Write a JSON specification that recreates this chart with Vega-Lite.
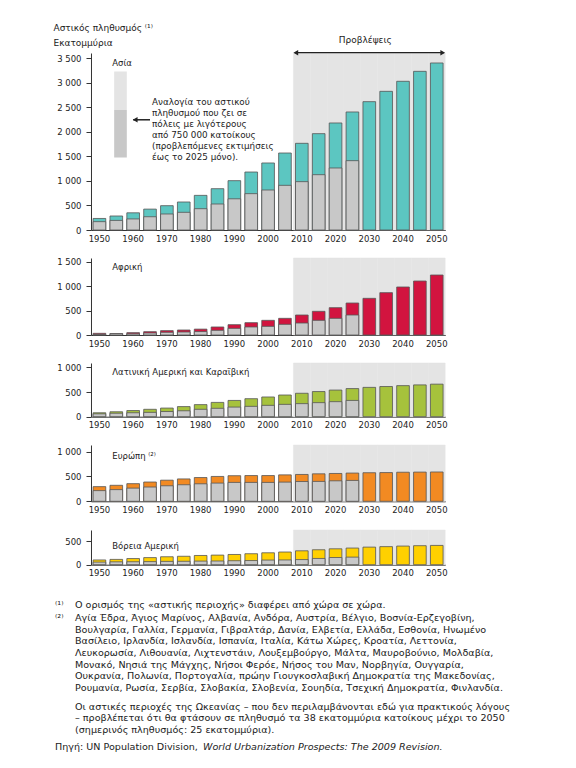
{
  "$schema": "https://vega.github.io/schema/vega-lite/v6.json",
  "background": "white",
  "padding": {"left": 53, "top": 23, "right": 5, "bottom": 5},
  "spacing": 28,
  "bounds": "flush",
  "config": {
    "view": {"stroke": null},
    "font": "DejaVu Sans",
    "text": {"font": "DejaVu Sans", "color": "#222"},
    "axis": {"labelFont": "DejaVu Sans", "labelFontSize": 8.5, "labelColor": "#222", "domainColor": "#333", "tickColor": "#333", "grid": false, "labelOverlap": false}
  },
  "datasets": {
    "urban": [
      {"region": "asia", "year": 1950, "total": 235, "small": 170},
      {"region": "asia", "year": 1955, "total": 285, "small": 195},
      {"region": "asia", "year": 1960, "total": 350, "small": 225},
      {"region": "asia", "year": 1965, "total": 425, "small": 270},
      {"region": "asia", "year": 1970, "total": 495, "small": 326},
      {"region": "asia", "year": 1975, "total": 570, "small": 360},
      {"region": "asia", "year": 1980, "total": 705, "small": 434},
      {"region": "asia", "year": 1985, "total": 841, "small": 529},
      {"region": "asia", "year": 1990, "total": 1004, "small": 635},
      {"region": "asia", "year": 1995, "total": 1180, "small": 740},
      {"region": "asia", "year": 2000, "total": 1364, "small": 814},
      {"region": "asia", "year": 2005, "total": 1567, "small": 909},
      {"region": "asia", "year": 2010, "total": 1764, "small": 984},
      {"region": "asia", "year": 2015, "total": 1961, "small": 1126},
      {"region": "asia", "year": 2020, "total": 2178, "small": 1262},
      {"region": "asia", "year": 2025, "total": 2402, "small": 1411},
      {"region": "asia", "year": 2030, "total": 2612, "small": null},
      {"region": "asia", "year": 2035, "total": 2822, "small": null},
      {"region": "asia", "year": 2040, "total": 3026, "small": null},
      {"region": "asia", "year": 2045, "total": 3229, "small": null},
      {"region": "asia", "year": 2050, "total": 3399, "small": null},
      {"region": "africa", "year": 1950, "total": 34, "small": 12},
      {"region": "africa", "year": 1955, "total": 30, "small": 28},
      {"region": "africa", "year": 1960, "total": 48, "small": 25},
      {"region": "africa", "year": 1965, "total": 68, "small": 41},
      {"region": "africa", "year": 1970, "total": 89, "small": 55},
      {"region": "africa", "year": 1975, "total": 102, "small": 61},
      {"region": "africa", "year": 1980, "total": 120, "small": 70},
      {"region": "africa", "year": 1985, "total": 164, "small": 95},
      {"region": "africa", "year": 1990, "total": 211, "small": 136},
      {"region": "africa", "year": 1995, "total": 252, "small": 164},
      {"region": "africa", "year": 2000, "total": 300, "small": 177},
      {"region": "africa", "year": 2005, "total": 341, "small": 218},
      {"region": "africa", "year": 2010, "total": 409, "small": 245},
      {"region": "africa", "year": 2015, "total": 484, "small": 300},
      {"region": "africa", "year": 2020, "total": 559, "small": 341},
      {"region": "africa", "year": 2025, "total": 654, "small": 409},
      {"region": "africa", "year": 2030, "total": 750, "small": null},
      {"region": "africa", "year": 2035, "total": 866, "small": null},
      {"region": "africa", "year": 2040, "total": 982, "small": null},
      {"region": "africa", "year": 2045, "total": 1104, "small": null},
      {"region": "africa", "year": 2050, "total": 1227, "small": null},
      {"region": "latin", "year": 1950, "total": 80, "small": 58},
      {"region": "latin", "year": 1955, "total": 100, "small": 70},
      {"region": "latin", "year": 1960, "total": 125, "small": 80},
      {"region": "latin", "year": 1965, "total": 150, "small": 88},
      {"region": "latin", "year": 1970, "total": 175, "small": 105},
      {"region": "latin", "year": 1975, "total": 205, "small": 120},
      {"region": "latin", "year": 1980, "total": 245, "small": 150},
      {"region": "latin", "year": 1985, "total": 290, "small": 170},
      {"region": "latin", "year": 1990, "total": 330, "small": 195},
      {"region": "latin", "year": 1995, "total": 365, "small": 210},
      {"region": "latin", "year": 2000, "total": 400, "small": 230},
      {"region": "latin", "year": 2005, "total": 440, "small": 250},
      {"region": "latin", "year": 2010, "total": 475, "small": 265},
      {"region": "latin", "year": 2015, "total": 510, "small": 285},
      {"region": "latin", "year": 2020, "total": 540, "small": 305},
      {"region": "latin", "year": 2025, "total": 570, "small": 330},
      {"region": "latin", "year": 2030, "total": 595, "small": null},
      {"region": "latin", "year": 2035, "total": 612, "small": null},
      {"region": "latin", "year": 2040, "total": 630, "small": null},
      {"region": "latin", "year": 2045, "total": 645, "small": null},
      {"region": "latin", "year": 2050, "total": 660, "small": null},
      {"region": "europe", "year": 1950, "total": 295, "small": 215},
      {"region": "europe", "year": 1955, "total": 322, "small": 235},
      {"region": "europe", "year": 1960, "total": 355, "small": 265},
      {"region": "europe", "year": 1965, "total": 388, "small": 287},
      {"region": "europe", "year": 1970, "total": 425, "small": 312},
      {"region": "europe", "year": 1975, "total": 450, "small": 333},
      {"region": "europe", "year": 1980, "total": 478, "small": 352},
      {"region": "europe", "year": 1985, "total": 500, "small": 366},
      {"region": "europe", "year": 1990, "total": 515, "small": 380},
      {"region": "europe", "year": 1995, "total": 518, "small": 380},
      {"region": "europe", "year": 2000, "total": 518, "small": 380},
      {"region": "europe", "year": 2005, "total": 532, "small": 386},
      {"region": "europe", "year": 2010, "total": 540, "small": 398},
      {"region": "europe", "year": 2015, "total": 553, "small": 400},
      {"region": "europe", "year": 2020, "total": 560, "small": 412},
      {"region": "europe", "year": 2025, "total": 568, "small": 420},
      {"region": "europe", "year": 2030, "total": 575, "small": null},
      {"region": "europe", "year": 2035, "total": 578, "small": null},
      {"region": "europe", "year": 2040, "total": 585, "small": null},
      {"region": "europe", "year": 2045, "total": 588, "small": null},
      {"region": "europe", "year": 2050, "total": 590, "small": null},
      {"region": "na", "year": 1950, "total": 100, "small": 55},
      {"region": "na", "year": 1955, "total": 112, "small": 60},
      {"region": "na", "year": 1960, "total": 130, "small": 62},
      {"region": "na", "year": 1965, "total": 150, "small": 65},
      {"region": "na", "year": 1970, "total": 168, "small": 70},
      {"region": "na", "year": 1975, "total": 178, "small": 72},
      {"region": "na", "year": 1980, "total": 195, "small": 76},
      {"region": "na", "year": 1985, "total": 203, "small": 78},
      {"region": "na", "year": 1990, "total": 216, "small": 84},
      {"region": "na", "year": 1995, "total": 232, "small": 88},
      {"region": "na", "year": 2000, "total": 252, "small": 98},
      {"region": "na", "year": 2005, "total": 268, "small": 100},
      {"region": "na", "year": 2010, "total": 294, "small": 108},
      {"region": "na", "year": 2015, "total": 316, "small": 132},
      {"region": "na", "year": 2020, "total": 336, "small": 152},
      {"region": "na", "year": 2025, "total": 352, "small": 160},
      {"region": "na", "year": 2030, "total": 372, "small": null},
      {"region": "na", "year": 2035, "total": 382, "small": null},
      {"region": "na", "year": 2040, "total": 394, "small": null},
      {"region": "na", "year": 2045, "total": 402, "small": null},
      {"region": "na", "year": 2050, "total": 408, "small": null}
    ],
    "notes": [
      {"line": 0, "col": "left", "style": "normal", "text": "⁽¹⁾"},
      {"line": 0, "col": "body", "style": "normal", "text": "Ο ορισμός της «αστικής περιοχής» διαφέρει από χώρα σε χώρα."},
      {"line": 1.1, "col": "left", "style": "normal", "text": "⁽²⁾"},
      {"line": 1.1, "col": "body", "style": "normal", "text": "Αγία Έδρα, Άγιος Μαρίνος, Αλβανία, Ανδόρα, Αυστρία, Βέλγιο, Βοσνία-Ερζεγοβίνη,"},
      {"line": 2.1, "col": "body", "style": "normal", "text": "Βουλγαρία, Γαλλία, Γερμανία, Γιβραλτάρ, Δανία, Ελβετία, Ελλάδα, Εσθονία, Ηνωμένο"},
      {"line": 3.1, "col": "body", "style": "normal", "text": "Βασίλειο, Ιρλανδία, Ισλανδία, Ισπανία, Ιταλία, Κάτω Χώρες, Κροατία, Λεττονία,"},
      {"line": 4.1, "col": "body", "style": "normal", "text": "Λευκορωσία, Λιθουανία, Λιχτενστάιν, Λουξεμβούργο, Μάλτα, Μαυροβούνιο, Μολδαβία,"},
      {"line": 5.1, "col": "body", "style": "normal", "text": "Μονακό, Νησιά της Μάγχης, Νήσοι Φερόε, Νήσος του Μαν, Νορβηγία, Ουγγαρία,"},
      {"line": 6.1, "col": "body", "style": "normal", "text": "Ουκρανία, Πολωνία, Πορτογαλία, πρώην Γιουγκοσλαβική Δημοκρατία της Μακεδονίας,"},
      {"line": 7.1, "col": "body", "style": "normal", "text": "Ρουμανία, Ρωσία, Σερβία, Σλοβακία, Σλοβενία, Σουηδία, Τσεχική Δημοκρατία, Φινλανδία."},
      {"line": 8.7, "col": "body", "style": "normal", "text": "Οι αστικές περιοχές της Ωκεανίας – που δεν περιλαμβάνονται εδώ για πρακτικούς λόγους"},
      {"line": 9.7, "col": "body", "style": "normal", "text": "–  προβλέπεται ότι θα φτάσουν σε πληθυσμό τα 38 εκατομμύρια κατοίκους μέχρι το 2050"},
      {"line": 10.7, "col": "body", "style": "normal", "text": "(σημερινός πληθυσμός: 25 εκατομμύρια)."},
      {"line": 12.1, "col": "left", "style": "normal", "text": "Πηγή: UN Population Division,"},
      {"line": 12.1, "col": "left", "style": "italic", "text": "World Urbanization Prospects: The 2009 Revision."}
    ]
  },
  "vconcat": [
    {
      "width": 354.2,
      "height": 177,
      "data": {"name": "urban"},
      "transform": [{"filter": "datum.region === 'asia'"}],
      "layer": [
        {
          "transform": [{"filter": "datum.year >= 2010"}],
          "mark": {"type": "bar", "width": {"band": 1}, "fill": "#e4e4e4", "stroke": "#e4e4e4", "strokeWidth": 0.5},
          "encoding": {
            "x": {"field": "year", "type": "ordinal", "scale": {"paddingInner": 0, "paddingOuter": 0}, "axis": {"title": null, "values": [1950, 1960, 1970, 1980, 1990, 2000, 2010, 2020, 2030, 2040, 2050], "labelAngle": 0, "ticks": false, "labelPadding": 4}},
            "y": {"datum": 3602, "type": "quantitative", "scale": {"domain": [0, 3602], "nice": false},
              "axis": {"values": [0, 500, 1000, 1500, 2000, 2500, 3000, 3500], "tickCount": 50, "labelOverlap": false, "labelExpr": "replace(format(datum.value, ','), ',', ' ')", "tickSize": 5, "labelPadding": 5,
                "title": ["Αστικός πληθυσμός ⁽¹⁾", "Εκατομμύρια"], "titleAngle": 0, "titleAlign": "left", "titleBaseline": "bottom", "titleX": -38, "titleY": -20.3,
                "titleFont": "DejaVu Sans", "titleFontSize": 9, "titleFontWeight": "normal", "titleColor": "#222", "titleLineHeight": 15}},
            "y2": {"datum": 0}
          }
        },
        {
          "mark": {"type": "bar", "width": {"band": 0.75}, "fill": "#5cc6c1", "stroke": "#555", "strokeWidth": 0.8},
          "encoding": {
            "x": {"field": "year", "type": "ordinal"},
            "y": {"field": "total", "type": "quantitative", "scale": {"domain": [0, 3602], "nice": false}}
          }
        },
        {
          "transform": [{"filter": "isValid(datum.small)"}],
          "mark": {"type": "bar", "width": {"band": 0.75}, "fill": "#c8c8c8", "stroke": "#555", "strokeWidth": 0.8},
          "encoding": {
            "x": {"field": "year", "type": "ordinal"},
            "y": {"field": "small", "type": "quantitative", "scale": {"domain": [0, 3602], "nice": false}}
          }
        },
        {
          "data": {"values": [{}]},
          "mark": {"type": "bar", "width": {"band": 0.75}, "fill": "#e4e4e4", "xOffset": 4.2},
          "encoding": {
            "x": {"datum": 1955, "type": "ordinal"},
            "y": {"datum": 3228, "type": "quantitative", "scale": {"domain": [0, 3602], "nice": false}},
            "y2": {"datum": 2442}
          }
        },
        {
          "data": {"values": [{}]},
          "mark": {"type": "bar", "width": {"band": 0.75}, "fill": "#c8c8c8", "xOffset": 4.2},
          "encoding": {
            "x": {"datum": 1955, "type": "ordinal"},
            "y": {"datum": 2442, "type": "quantitative", "scale": {"domain": [0, 3602], "nice": false}},
            "y2": {"datum": 1477}
          }
        },
        {
          "data": {"values": [{}]},
          "mark": {"type": "text", "text": "Ασία", "align": "left", "baseline": "middle", "fontSize": 8.5, "dx": -4},
          "encoding": {
            "x": {"datum": 1955, "type": "ordinal"},
            "y": {"datum": 3390, "type": "quantitative", "scale": {"domain": [0, 3602], "nice": false}}
          }
        },
        {
          "data": {"values": [{}]},
          "mark": {"type": "rule", "color": "#222", "strokeWidth": 1.5},
          "encoding": {
            "x": {"datum": 1960, "type": "ordinal"},
            "x2": {"datum": 1965},
            "y": {"datum": 2243, "type": "quantitative", "scale": {"domain": [0, 3602], "nice": false}}
          }
        },
        {
          "data": {"values": [{}]},
          "mark": {"type": "point", "shape": "triangle-left", "filled": true, "color": "#222", "size": 30, "opacity": 1, "xOffset": 2},
          "encoding": {
            "x": {"datum": 1960, "type": "ordinal"},
            "y": {"datum": 2243, "type": "quantitative", "scale": {"domain": [0, 3602], "nice": false}}
          }
        },
        {
          "data": {"values": [{}]},
          "mark": {"type": "text", "text": ["Αναλογία του αστικού", "πληθυσμού που ζει σε", "πόλεις με λιγότερους", "από 750 000 κατοίκους", "(προβλεπόμενες εκτιμήσεις", "έως το 2025 μόνο)."], "align": "left", "baseline": "middle", "fontSize": 8.8, "lineHeight": 10.85, "dx": 2},
          "encoding": {
            "x": {"datum": 1965, "type": "ordinal"},
            "y": {"datum": 2597, "type": "quantitative", "scale": {"domain": [0, 3602], "nice": false}}
          }
        },
        {
          "data": {"values": [{}]},
          "mark": {"type": "rule", "color": "#222", "strokeWidth": 1.2, "xOffset": -7, "x2Offset": 7},
          "encoding": {
            "x": {"datum": 2010, "type": "ordinal"},
            "x2": {"datum": 2050},
            "y": {"datum": 3608, "type": "quantitative", "scale": {"domain": [0, 3602], "nice": false}}
          }
        },
        {
          "data": {"values": [{}]},
          "mark": {"type": "point", "shape": "triangle-left", "filled": true, "color": "#222", "size": 30, "opacity": 1, "xOffset": -6},
          "encoding": {
            "x": {"datum": 2010, "type": "ordinal"},
            "y": {"datum": 3608, "type": "quantitative", "scale": {"domain": [0, 3602], "nice": false}}
          }
        },
        {
          "data": {"values": [{}]},
          "mark": {"type": "point", "shape": "triangle-right", "filled": true, "color": "#222", "size": 30, "opacity": 1, "xOffset": 6},
          "encoding": {
            "x": {"datum": 2050, "type": "ordinal"},
            "y": {"datum": 3608, "type": "quantitative", "scale": {"domain": [0, 3602], "nice": false}}
          }
        },
        {
          "data": {"values": [{}]},
          "mark": {"type": "text", "text": "Προβλέψεις", "align": "center", "baseline": "middle", "fontSize": 9, "dx": -4},
          "encoding": {
            "x": {"datum": 2030, "type": "ordinal"},
            "y": {"datum": 3873, "type": "quantitative", "scale": {"domain": [0, 3602], "nice": false}}
          }
        }
      ]
    },
    {
      "width": 354.2,
      "height": 77,
      "data": {"name": "urban"},
      "transform": [{"filter": "datum.region === 'africa'"}],
      "layer": [
        {
          "transform": [{"filter": "datum.year >= 2010"}],
          "mark": {"type": "bar", "width": {"band": 1}, "fill": "#e4e4e4", "stroke": "#e4e4e4", "strokeWidth": 0.5},
          "encoding": {
            "x": {"field": "year", "type": "ordinal", "scale": {"paddingInner": 0, "paddingOuter": 0}, "axis": {"title": null, "values": [1950, 1960, 1970, 1980, 1990, 2000, 2010, 2020, 2030, 2040, 2050], "labelAngle": 0, "ticks": false, "labelPadding": 4}},
            "y": {"datum": 1575, "type": "quantitative", "scale": {"domain": [0, 1575], "nice": false},
              "axis": {"title": null, "values": [0, 500, 1000, 1500], "tickCount": 50, "labelOverlap": false, "labelExpr": "replace(format(datum.value, ','), ',', ' ')", "tickSize": 5, "labelPadding": 5}},
            "y2": {"datum": 0}
          }
        },
        {
          "mark": {"type": "bar", "width": {"band": 0.75}, "fill": "#d2143f", "stroke": "#555", "strokeWidth": 0.8},
          "encoding": {
            "x": {"field": "year", "type": "ordinal"},
            "y": {"field": "total", "type": "quantitative", "scale": {"domain": [0, 1575], "nice": false}}
          }
        },
        {
          "transform": [{"filter": "isValid(datum.small)"}],
          "mark": {"type": "bar", "width": {"band": 0.75}, "fill": "#c8c8c8", "stroke": "#555", "strokeWidth": 0.8},
          "encoding": {
            "x": {"field": "year", "type": "ordinal"},
            "y": {"field": "small", "type": "quantitative", "scale": {"domain": [0, 1575], "nice": false}}
          }
        },
        {
          "data": {"values": [{}]},
          "mark": {"type": "text", "text": "Αφρική", "align": "left", "baseline": "middle", "fontSize": 8.5, "dx": -4},
          "encoding": {
            "x": {"datum": 1955, "type": "ordinal"},
            "y": {"datum": 1391, "type": "quantitative", "scale": {"domain": [0, 1575], "nice": false}}
          }
        }
      ]
    },
    {
      "width": 354.2,
      "height": 53.7,
      "data": {"name": "urban"},
      "transform": [{"filter": "datum.region === 'latin'"}],
      "layer": [
        {
          "transform": [{"filter": "datum.year >= 2010"}],
          "mark": {"type": "bar", "width": {"band": 1}, "fill": "#e4e4e4", "stroke": "#e4e4e4", "strokeWidth": 0.5},
          "encoding": {
            "x": {"field": "year", "type": "ordinal", "scale": {"paddingInner": 0, "paddingOuter": 0}, "axis": {"title": null, "values": [1950, 1960, 1970, 1980, 1990, 2000, 2010, 2020, 2030, 2040, 2050], "labelAngle": 0, "ticks": false, "labelPadding": 4}},
            "y": {"datum": 1089, "type": "quantitative", "scale": {"domain": [0, 1089], "nice": false},
              "axis": {"title": null, "values": [0, 500, 1000], "tickCount": 50, "labelOverlap": false, "labelExpr": "replace(format(datum.value, ','), ',', ' ')", "tickSize": 5, "labelPadding": 5}},
            "y2": {"datum": 0}
          }
        },
        {
          "mark": {"type": "bar", "width": {"band": 0.75}, "fill": "#a6c23c", "stroke": "#555", "strokeWidth": 0.8},
          "encoding": {
            "x": {"field": "year", "type": "ordinal"},
            "y": {"field": "total", "type": "quantitative", "scale": {"domain": [0, 1089], "nice": false}}
          }
        },
        {
          "transform": [{"filter": "isValid(datum.small)"}],
          "mark": {"type": "bar", "width": {"band": 0.75}, "fill": "#c8c8c8", "stroke": "#555", "strokeWidth": 0.8},
          "encoding": {
            "x": {"field": "year", "type": "ordinal"},
            "y": {"field": "small", "type": "quantitative", "scale": {"domain": [0, 1089], "nice": false}}
          }
        },
        {
          "data": {"values": [{}]},
          "mark": {"type": "text", "text": "Λατινική Αμερική και Καραϊβική", "align": "left", "baseline": "middle", "fontSize": 8.5, "dx": -4},
          "encoding": {
            "x": {"datum": 1955, "type": "ordinal"},
            "y": {"datum": 913, "type": "quantitative", "scale": {"domain": [0, 1089], "nice": false}}
          }
        }
      ]
    },
    {
      "width": 354.2,
      "height": 56.3,
      "data": {"name": "urban"},
      "transform": [{"filter": "datum.region === 'europe'"}],
      "layer": [
        {
          "transform": [{"filter": "datum.year >= 2010"}],
          "mark": {"type": "bar", "width": {"band": 1}, "fill": "#e4e4e4", "stroke": "#e4e4e4", "strokeWidth": 0.5},
          "encoding": {
            "x": {"field": "year", "type": "ordinal", "scale": {"paddingInner": 0, "paddingOuter": 0}, "axis": {"title": null, "values": [1950, 1960, 1970, 1980, 1990, 2000, 2010, 2020, 2030, 2040, 2050], "labelAngle": 0, "ticks": false, "labelPadding": 4}},
            "y": {"datum": 1133, "type": "quantitative", "scale": {"domain": [0, 1133], "nice": false},
              "axis": {"title": null, "values": [0, 500, 1000], "tickCount": 50, "labelOverlap": false, "labelExpr": "replace(format(datum.value, ','), ',', ' ')", "tickSize": 5, "labelPadding": 5}},
            "y2": {"datum": 0}
          }
        },
        {
          "mark": {"type": "bar", "width": {"band": 0.75}, "fill": "#f28a22", "stroke": "#555", "strokeWidth": 0.8},
          "encoding": {
            "x": {"field": "year", "type": "ordinal"},
            "y": {"field": "total", "type": "quantitative", "scale": {"domain": [0, 1133], "nice": false}}
          }
        },
        {
          "transform": [{"filter": "isValid(datum.small)"}],
          "mark": {"type": "bar", "width": {"band": 0.75}, "fill": "#c8c8c8", "stroke": "#555", "strokeWidth": 0.8},
          "encoding": {
            "x": {"field": "year", "type": "ordinal"},
            "y": {"field": "small", "type": "quantitative", "scale": {"domain": [0, 1133], "nice": false}}
          }
        },
        {
          "data": {"values": [{}]},
          "mark": {"type": "text", "text": "Ευρώπη ⁽²⁾", "align": "left", "baseline": "middle", "fontSize": 8.5, "dx": -4},
          "encoding": {
            "x": {"datum": 1955, "type": "ordinal"},
            "y": {"datum": 911, "type": "quantitative", "scale": {"domain": [0, 1133], "nice": false}}
          }
        }
      ]
    },
    {
      "width": 354.2,
      "height": 34.7,
      "data": {"name": "urban"},
      "transform": [{"filter": "datum.region === 'na'"}],
      "layer": [
        {
          "transform": [{"filter": "datum.year >= 2010"}],
          "mark": {"type": "bar", "width": {"band": 1}, "fill": "#e4e4e4", "stroke": "#e4e4e4", "strokeWidth": 0.5},
          "encoding": {
            "x": {"field": "year", "type": "ordinal", "scale": {"paddingInner": 0, "paddingOuter": 0}, "axis": {"title": null, "values": [1950, 1960, 1970, 1980, 1990, 2000, 2010, 2020, 2030, 2040, 2050], "labelAngle": 0, "ticks": false, "labelPadding": 4}},
            "y": {"datum": 734, "type": "quantitative", "scale": {"domain": [0, 734], "nice": false},
              "axis": {"title": null, "values": [0, 500], "tickCount": 50, "labelOverlap": false, "labelExpr": "replace(format(datum.value, ','), ',', ' ')", "tickSize": 5, "labelPadding": 5}},
            "y2": {"datum": 0}
          }
        },
        {
          "mark": {"type": "bar", "width": {"band": 0.75}, "fill": "#ffd000", "stroke": "#555", "strokeWidth": 0.8},
          "encoding": {
            "x": {"field": "year", "type": "ordinal"},
            "y": {"field": "total", "type": "quantitative", "scale": {"domain": [0, 734], "nice": false}}
          }
        },
        {
          "transform": [{"filter": "isValid(datum.small)"}],
          "mark": {"type": "bar", "width": {"band": 0.75}, "fill": "#c8c8c8", "stroke": "#555", "strokeWidth": 0.8},
          "encoding": {
            "x": {"field": "year", "type": "ordinal"},
            "y": {"field": "small", "type": "quantitative", "scale": {"domain": [0, 734], "nice": false}}
          }
        },
        {
          "data": {"values": [{}]},
          "mark": {"type": "text", "text": "Βόρεια Αμερική", "align": "left", "baseline": "middle", "fontSize": 8.5, "dx": -4},
          "encoding": {
            "x": {"datum": 1955, "type": "ordinal"},
            "y": {"datum": 395, "type": "quantitative", "scale": {"domain": [0, 734], "nice": false}}
          }
        }
      ]
    },
    {
      "width": 354.2,
      "height": 160,
      "data": {"name": "notes"},
      "layer": [
        {
          "transform": [{"filter": "datum.style !== 'italic'"}],
          "mark": {"type": "text", "align": "left", "baseline": "middle", "fontSize": 9.6},
          "encoding": {
            "x": {"field": "col", "type": "nominal", "scale": {"type": "point", "domain": ["left", "body"], "range": [-36, -16], "padding": 0}, "axis": null},
            "y": {"field": "line", "type": "quantitative", "scale": {"domain": [-1.03, 12.65], "reverse": true, "nice": false, "zero": false}, "axis": null},
            "text": {"field": "text"}
          }
        },
        {
          "transform": [{"filter": "datum.style === 'italic'"}],
          "mark": {"type": "text", "align": "left", "baseline": "middle", "fontSize": 9.6, "fontStyle": "italic", "dx": 148},
          "encoding": {
            "x": {"field": "col", "type": "nominal"},
            "y": {"field": "line", "type": "quantitative"},
            "text": {"field": "text"}
          }
        }
      ]
    }
  ]
}
